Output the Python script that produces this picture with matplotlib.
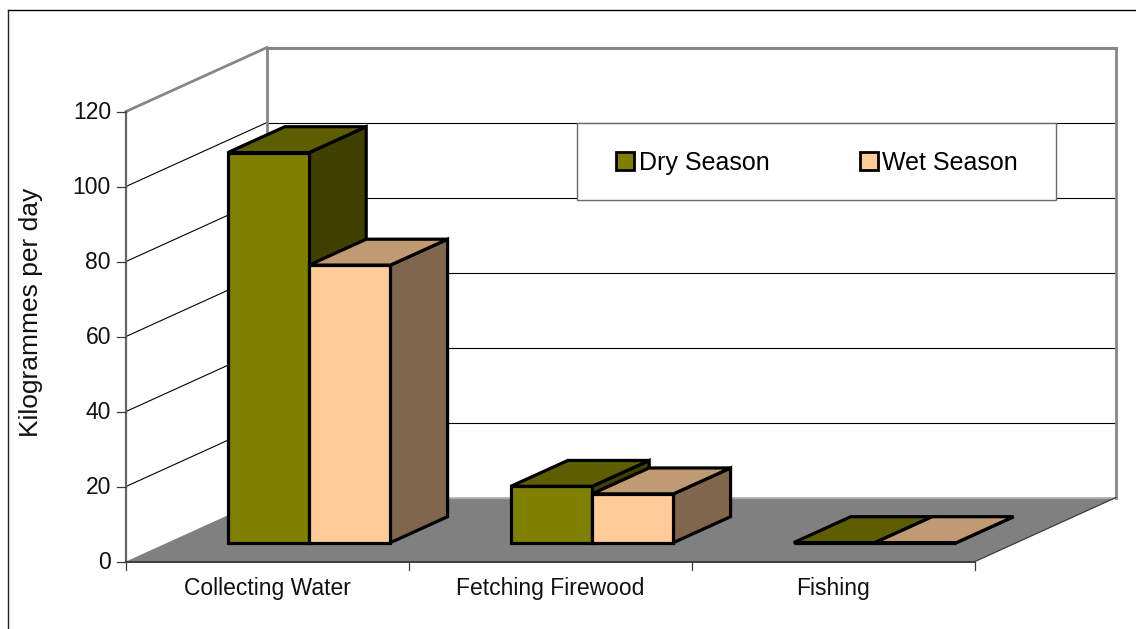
"""
Pseudo-3D clustered column chart, kilogrammes per day by activity and season.
"""

import matplotlib
matplotlib.use("Agg")
import matplotlib.pyplot as plt
from matplotlib.patches import Polygon, Rectangle

plt.rcParams["font.family"] = ["Liberation Sans", "DejaVu Sans"]

# data
categories = ["Collecting Water", "Fetching Firewood", "Fishing"]
dry_season = [104, 15, 0]
wet_season = [74, 13, 0]
y_ticks = [0, 20, 40, 60, 80, 100, 120]
series_names = ["Dry Season", "Wet Season"]

# projection of the chart box onto the page, in pixels
X0, Y0 = 126, 561.5
CAT_W = 283
PX_PER_UNIT = 3.75
DEPTH_X, DEPTH_Y = 141, 64
YMAX = y_ticks[-1]
NCAT = len(categories)

# bar layout in chart units
GAP = 0.2125
BAR_W = 0.2875
DEPTH_FRONT, DEPTH_BACK = 0.295, 0.70

DRY = ("#808000", "#5e5e00", "#404000")
WET = ("#ffcc99", "#c09a72", "#80664c")
GREY = "#868686"
EDGE = "#3c3c3c"


def proj(cat, val, depth=0.0):
    return (X0 + cat * CAT_W + depth * DEPTH_X,
            Y0 - val * PX_PER_UNIT - depth * DEPTH_Y)


def draw_bar(ax, left, val, colors):
    right = left + BAR_W
    faces = [
        (colors[2], [proj(right, 0, DEPTH_FRONT), proj(right, 0, DEPTH_BACK),
                     proj(right, val, DEPTH_BACK), proj(right, val, DEPTH_FRONT)]),
        (colors[1], [proj(left, val, DEPTH_FRONT), proj(right, val, DEPTH_FRONT),
                     proj(right, val, DEPTH_BACK), proj(left, val, DEPTH_BACK)]),
        (colors[0], [proj(left, 0, DEPTH_FRONT), proj(right, 0, DEPTH_FRONT),
                     proj(right, val, DEPTH_FRONT), proj(left, val, DEPTH_FRONT)]),
    ]
    for col, pts in faces:
        ax.add_patch(Polygon(pts, closed=True, facecolor=col, edgecolor="black",
                             linewidth=2.3, joinstyle="miter", zorder=4))


def line(ax, a, b, color="black", lw=0.8, z=2):
    ax.plot([a[0], b[0]], [a[1], b[1]], color=color, lw=lw, zorder=z,
            solid_capstyle="projecting")


fig = plt.figure(figsize=(11.36, 6.29), dpi=100)
ax = fig.add_axes([0, 0, 1, 1])
ax.set_xlim(0, 1136)
ax.set_ylim(629, 0)
ax.axis("off")

# page border, top and left only
line(ax, (8, 10), (1136, 10), lw=1.0)
line(ax, (8, 10), (8, 629), color="#222222", lw=1.0)

# floor
ax.add_patch(Polygon([proj(0, 0), proj(NCAT, 0), proj(NCAT, 0, 1), proj(0, 0, 1)],
                     closed=True, facecolor="#808080", edgecolor="none", zorder=1))

# grid on the left and back walls
for t in y_ticks[1:-1]:
    line(ax, proj(0, t), proj(0, t, 1))
    line(ax, proj(0, t, 1), proj(NCAT, t, 1))

# walls
line(ax, proj(0, YMAX), proj(0, YMAX, 1), color=GREY, lw=2.0, z=3)
line(ax, proj(0, YMAX, 1), proj(NCAT, YMAX, 1), color=GREY, lw=2.2, z=3)
line(ax, proj(0, 0, 1), proj(0, YMAX, 1), color=GREY, lw=2.0, z=3)
line(ax, proj(NCAT, 0, 1), proj(NCAT, YMAX, 1), color=GREY, lw=2.0, z=3)
line(ax, proj(0, 0, 1), proj(NCAT, 0, 1), color="#a8a8a8", lw=1.0, z=3)
line(ax, proj(0, 0), proj(0, YMAX), color="#666666", lw=1.6, z=3)
line(ax, proj(0, 0), proj(NCAT, 0), color=EDGE, lw=1.4, z=3)
line(ax, proj(NCAT, 0), proj(NCAT, 0, 1), color=EDGE, lw=0.9, z=3)

# ticks and labels
for t in y_ticks:
    x, y = proj(0, t)
    line(ax, (x - 9, y), (x, y), color=EDGE, lw=0.9, z=3)
    ax.text(x - 15, y + 1, str(t), ha="right", va="center", fontsize=16.5, color="#111111")
for i in range(NCAT + 1):
    x, y = proj(i, 0)
    line(ax, (x, y), (x, y + 8), color=EDGE, lw=0.9, z=3)
for i, name in enumerate(categories):
    x, y = proj(i + 0.5, 0)
    ax.text(x, 589, name, ha="center", va="center", fontsize=16.5, color="#111111")
ax.text(31, 312, "Kilogrammes per day", rotation=90, ha="center", va="center",
        fontsize=19, color="#111111")

# bars
for i in range(NCAT):
    draw_bar(ax, i + GAP, dry_season[i], DRY)
    draw_bar(ax, i + GAP + BAR_W, wet_season[i], WET)

# legend
ax.add_patch(Rectangle((577, 123), 479, 77, facecolor="white", edgecolor="#6a6a6a",
                       linewidth=1.0, zorder=6))
handles = [Rectangle((0, 0), 1, 1, facecolor=c[0], edgecolor="black", linewidth=2.0)
           for c in (DRY, WET)]
leg = ax.legend(handles, series_names, ncol=2, frameon=False, fontsize=18,
                loc="center", bbox_to_anchor=(817, 163), bbox_transform=ax.transData,
                handlelength=0.72, handleheight=0.72, handletextpad=0.2,
                columnspacing=3.6, borderpad=0)
leg.set_zorder(7)

fig.savefig("out.png", dpi=100)
plt.close(fig)
